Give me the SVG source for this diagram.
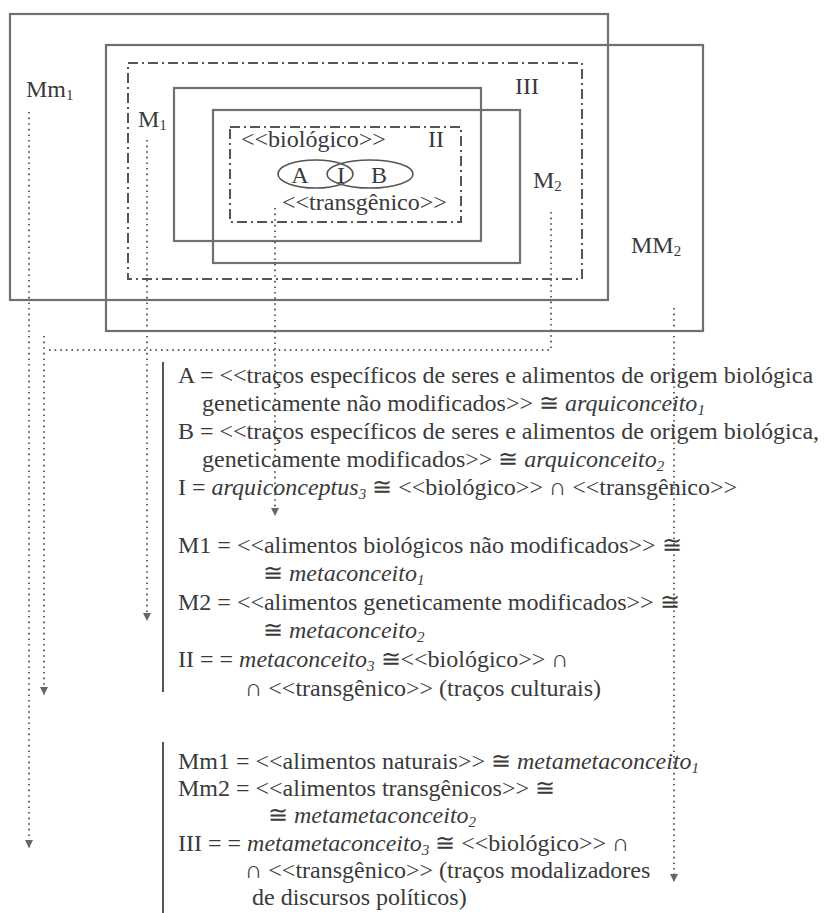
<svg xmlns="http://www.w3.org/2000/svg" width="829" height="913" viewBox="0 0 829 913">
<defs>
<style>
text{font-family:"Liberation Serif","DejaVu Serif","Times New Roman",serif;font-size:24px;fill:#3a3a3a}
.it{font-style:italic}
.sub{font-size:15px}
.box{fill:none;stroke:#707070;stroke-width:2.2}
.dd{fill:none;stroke:#555;stroke-width:2;stroke-dasharray:10 4 2 4}
.ell{fill:none;stroke:#555;stroke-width:1.6}
.dot{fill:none;stroke:#666;stroke-width:2;stroke-dasharray:1.6 4}
.bar{stroke:#555;stroke-width:2}
</style>
<marker id="ah" viewBox="0 0 8 8" markerWidth="8" markerHeight="8" refX="8" refY="4" orient="auto" markerUnits="userSpaceOnUse">
<path d="M0,0 L8,4 L0,8 Z" fill="#666"/>
</marker>
</defs>
<rect width="829" height="913" fill="#fff"/>

<g id="Mm1">
<rect class="box" x="10" y="14" width="598" height="286"/>
<text x="26" y="97">Mm<tspan class="sub" dy="3">1</tspan></text>
</g>
<g id="MM2">
<rect class="box" x="106" y="45" width="597" height="286"/>
<text x="631" y="253">MM<tspan class="sub" dy="3">2</tspan></text>
</g>
<g id="III">
<rect class="dd" x="128" y="63" width="454" height="216"/>
<text x="515" y="94">III</text>
</g>
<g id="M1">
<rect class="box" x="174" y="88" width="307" height="153"/>
<text x="138" y="127">M<tspan class="sub" dy="3">1</tspan></text>
</g>
<g id="M2">
<rect class="box" x="213" y="110" width="307" height="153"/>
<text x="533" y="188">M<tspan class="sub" dy="3">2</tspan></text>
</g>
<g id="II">
<rect class="dd" x="230" y="127" width="231" height="95"/>
<text x="241" y="147">&lt;&lt;biológico&gt;&gt;</text>
<text x="428" y="147">II</text>
<text x="282" y="210">&lt;&lt;transgênico&gt;&gt;</text>
</g>
<g id="A">
<ellipse class="ell" cx="315.5" cy="174" rx="37.5" ry="14"/>
<text x="300" y="183" text-anchor="middle">A</text>
</g>
<g id="B">
<ellipse class="ell" cx="370" cy="174" rx="43" ry="14"/>
<text x="379" y="183" text-anchor="middle">B</text>
</g>
<g id="I">
<text x="341" y="183" text-anchor="middle">I</text>
</g>

<g id="connectors">
<path class="dot" d="M29,112 V848" marker-end="url(#ah)"/>
<path class="dot" d="M147,140 V621" marker-end="url(#ah)"/>
<path class="dot" d="M551,212 V350 H48"/>
<path class="dot" d="M44,336 V695" marker-end="url(#ah)"/>
<path class="dot" d="M275,208 V516" marker-end="url(#ah)"/>
<path class="dot" d="M674,308 V882" marker-end="url(#ah)"/>
</g>

<g id="legend1">
<line class="bar" x1="163" y1="362" x2="163" y2="692"/>
<text x="178" y="383">A = &lt;&lt;traços específicos de seres e alimentos de origem biológica</text>
<text x="202" y="411">geneticamente não modificados&gt;&gt; ≅ <tspan class="it">arquiconceito</tspan><tspan class="it sub" dy="4">1</tspan></text>
<text x="178" y="439">B = &lt;&lt;traços específicos de seres e alimentos de origem biológica,</text>
<text x="202" y="467">geneticamente modificados&gt;&gt; ≅ <tspan class="it">arquiconceito</tspan><tspan class="it sub" dy="4">2</tspan></text>
<text x="178" y="495">I = <tspan class="it">arquiconceptus</tspan><tspan class="it sub" dy="4">3</tspan><tspan dy="-4"> ≅ &lt;&lt;biológico&gt;&gt; ∩ &lt;&lt;transgênico&gt;&gt;</tspan></text>
<text x="178" y="553">M1 = &lt;&lt;alimentos biológicos não modificados&gt;&gt; ≅</text>
<text x="263" y="581">≅ <tspan class="it">metaconceito</tspan><tspan class="it sub" dy="4">1</tspan></text>
<text x="178" y="610">M2 = &lt;&lt;alimentos geneticamente modificados&gt;&gt; ≅</text>
<text x="263" y="638">≅ <tspan class="it">metaconceito</tspan><tspan class="it sub" dy="4">2</tspan></text>
<text x="178" y="667">II = = <tspan class="it">metaconceito</tspan><tspan class="it sub" dy="4">3</tspan><tspan dy="-4"> ≅&lt;&lt;biológico&gt;&gt; ∩</tspan></text>
<text x="245" y="696">∩ &lt;&lt;transgênico&gt;&gt; (traços culturais)</text>
</g>

<g id="legend2">
<line class="bar" x1="163" y1="742" x2="163" y2="913"/>
<text x="178" y="769">Mm1 = &lt;&lt;alimentos naturais&gt;&gt; ≅ <tspan class="it">metametaconceito</tspan><tspan class="it sub" dy="4">1</tspan></text>
<text x="178" y="796">Mm2 = &lt;&lt;alimentos transgênicos&gt;&gt; ≅</text>
<text x="268" y="823">≅ <tspan class="it">metametaconceito</tspan><tspan class="it sub" dy="4">2</tspan></text>
<text x="178" y="851">III = = <tspan class="it">metametaconceito</tspan><tspan class="it sub" dy="4">3</tspan><tspan dy="-4"> ≅ &lt;&lt;biológico&gt;&gt; ∩</tspan></text>
<text x="245" y="878">∩ &lt;&lt;transgênico&gt;&gt; (traços modalizadores</text>
<text x="252" y="905">de discursos políticos)</text>
</g>
</svg>
